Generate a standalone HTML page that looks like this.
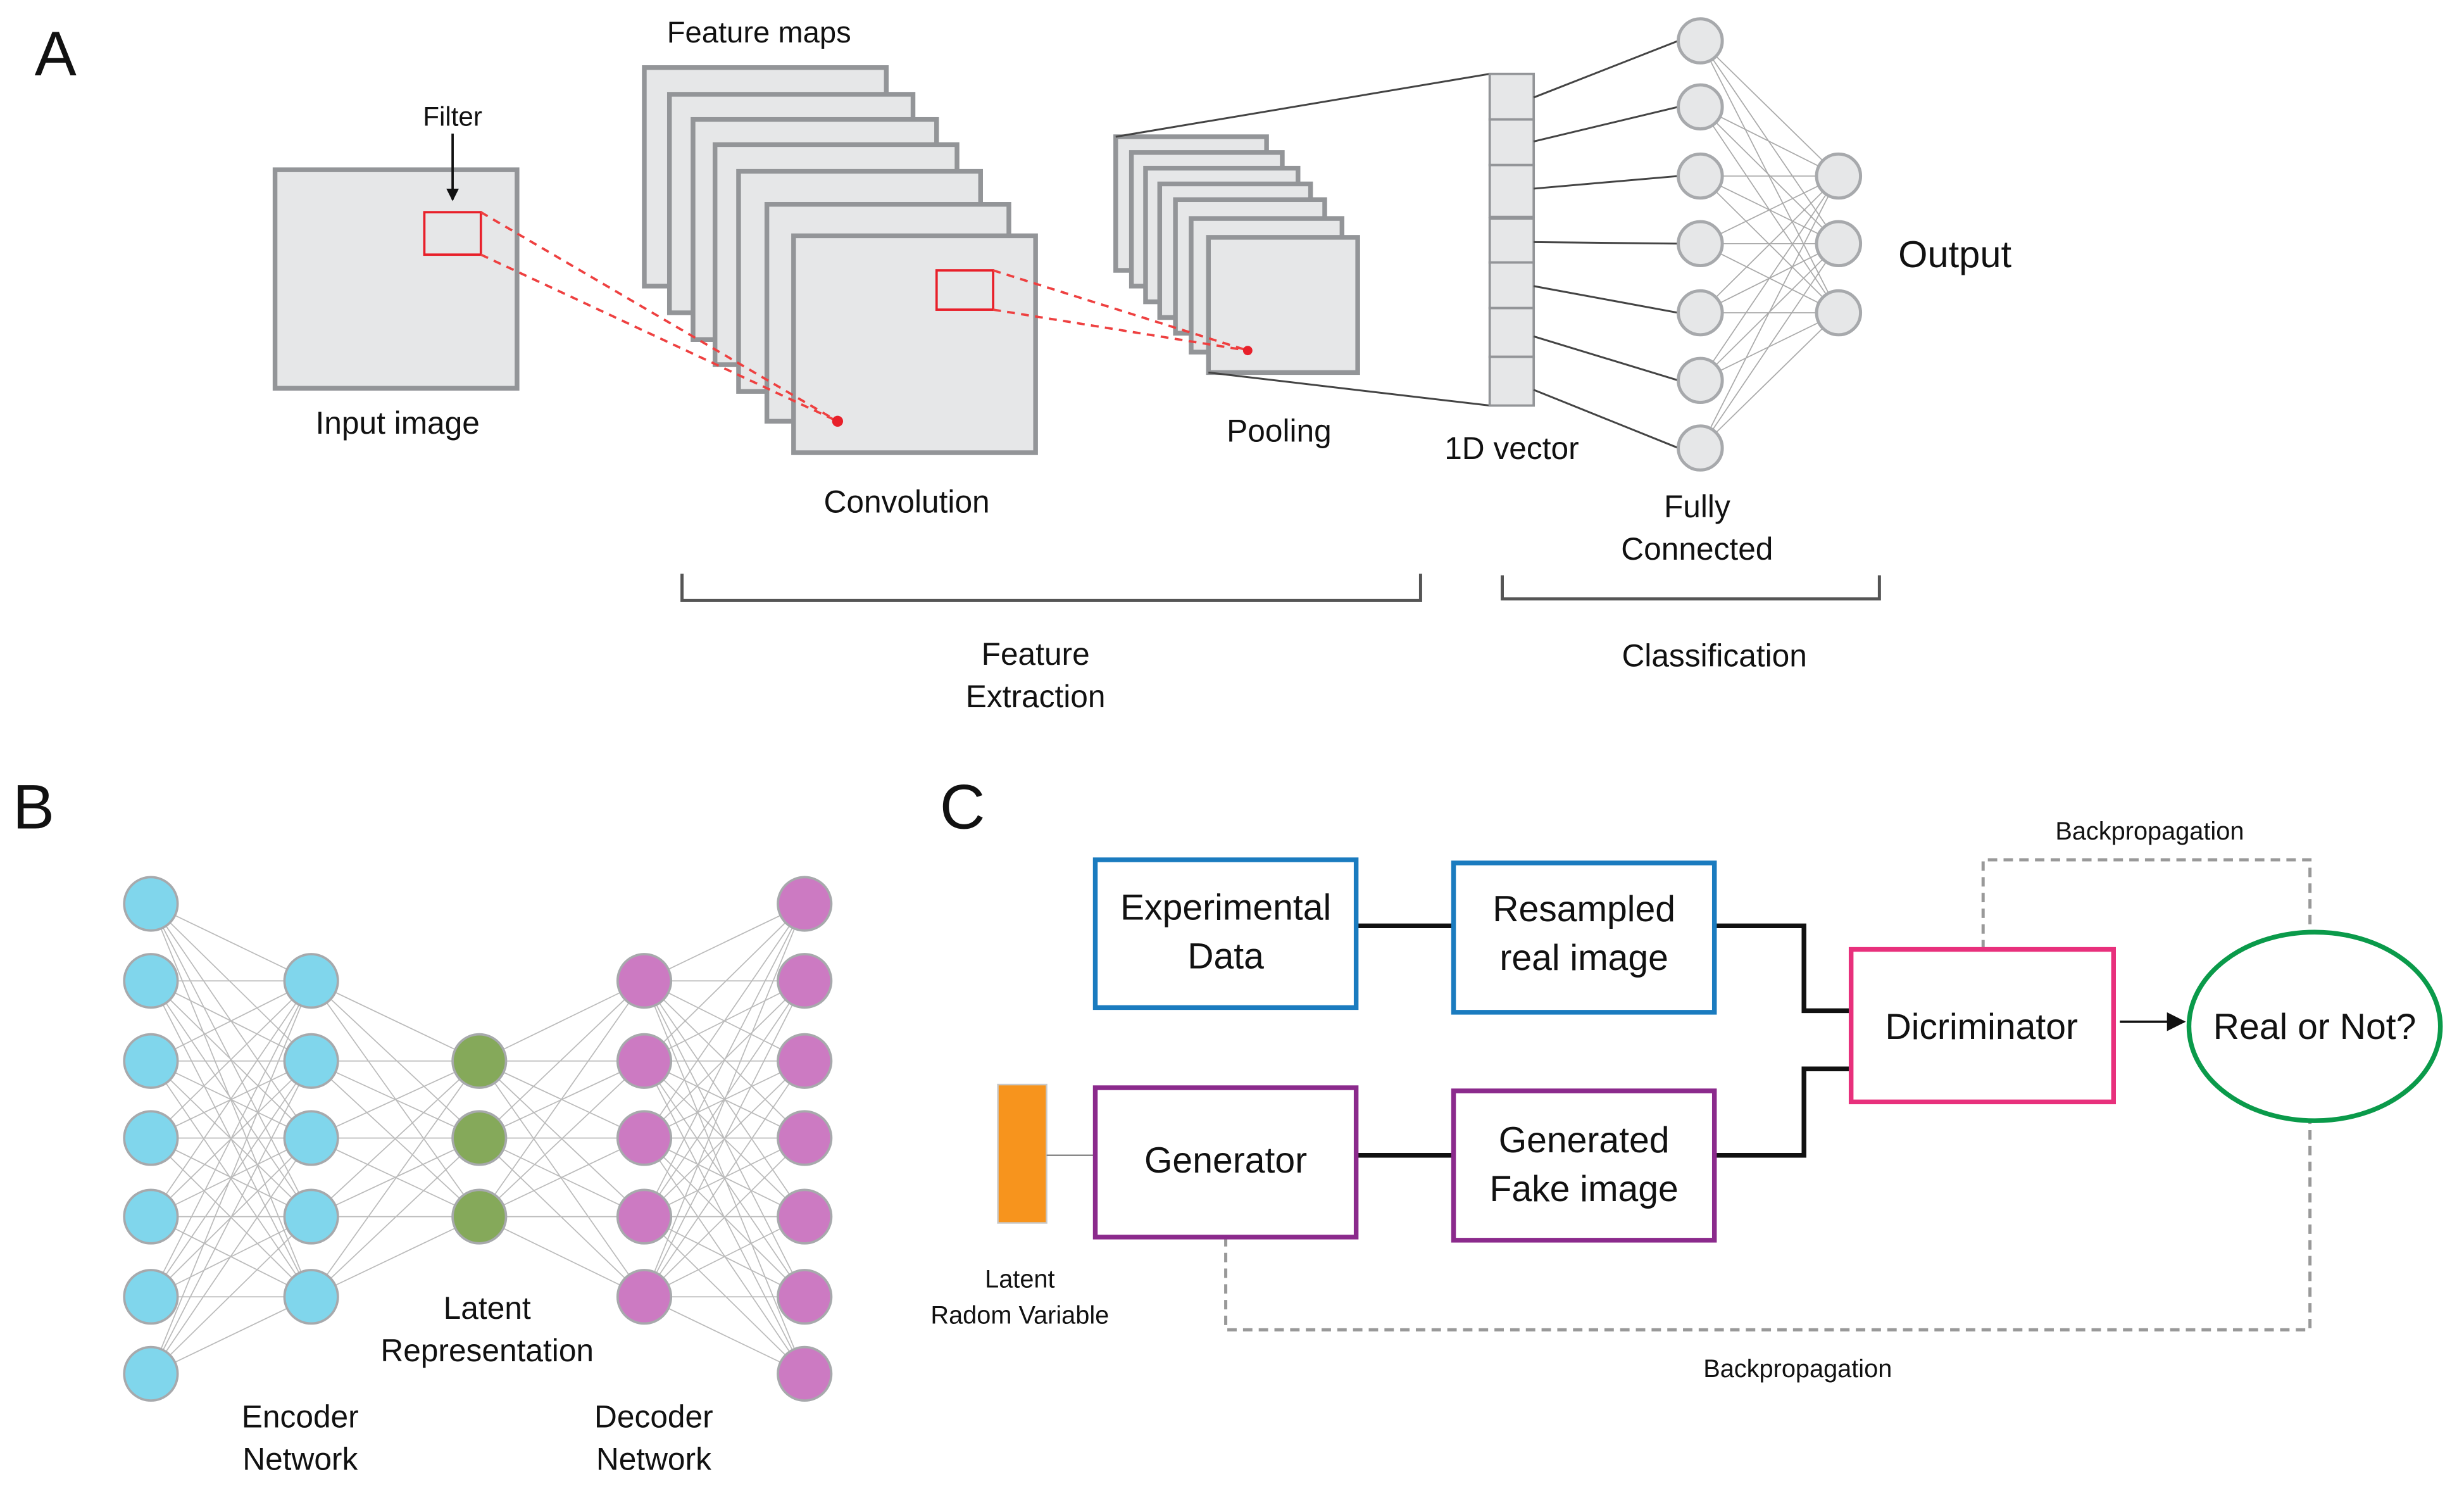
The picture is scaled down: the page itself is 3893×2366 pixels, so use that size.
<!DOCTYPE html>
<html><head><meta charset="utf-8"><style>
html,body{margin:0;padding:0;background:#fff;}
svg{display:block;}
text{font-family:"Liberation Sans Narrow","Liberation Sans",sans-serif;fill:#111;}
</style></head><body>
<svg width="3893" height="2366" viewBox="0 0 1568 953" xmlns="http://www.w3.org/2000/svg">
<defs>
<marker id="ah" markerWidth="8" markerHeight="8" refX="7" refY="4" orient="auto" markerUnits="userSpaceOnUse"><path d="M0,0 L8,4 L0,8 Z" fill="#111"/></marker>
<marker id="ah2" markerWidth="12" markerHeight="12" refX="11" refY="6" orient="auto" markerUnits="userSpaceOnUse"><path d="M0,0 L12,6 L0,12 Z" fill="#111"/></marker>
</defs>
<!-- A -->
<text x="22" y="48" font-size="40">A</text>
<rect x="175" y="108" width="154" height="139" fill="#e6e7e8" stroke="#939598" stroke-width="3"/>
<text x="288" y="80" font-size="17" text-anchor="middle">Filter</text>
<line x1="288" y1="85" x2="288" y2="127" stroke="#111" stroke-width="1.5" marker-end="url(#ah)"/>
<text x="253" y="276" font-size="20" text-anchor="middle">Input image</text>
<text x="483" y="27" font-size="19" text-anchor="middle">Feature maps</text>
<g fill="#e6e7e8" stroke="#939598" stroke-width="3">
<rect x="410" y="43" width="154" height="139"/>
<rect x="426" y="60" width="155" height="139"/>
<rect x="441" y="76" width="155" height="140"/>
<rect x="455" y="92" width="154" height="140"/>
<rect x="470" y="109" width="154" height="140"/>
<rect x="488" y="130" width="154" height="138"/>
<rect x="505" y="150" width="154" height="138"/>
</g>
<g fill="#e6e7e8" stroke="#939598" stroke-width="3">
<rect x="710" y="87" width="96" height="85"/>
<rect x="720" y="97" width="96" height="85"/>
<rect x="729" y="107" width="97" height="85"/>
<rect x="738" y="117" width="96" height="85"/>
<rect x="748" y="127" width="95" height="85"/>
<rect x="758" y="139" width="96" height="85"/>
<rect x="769" y="151" width="95" height="86"/>
</g>
<rect x="270" y="135" width="36" height="27" fill="none" stroke="#e8202a" stroke-width="1.5"/>
<rect x="596" y="172" width="36" height="25" fill="none" stroke="#e8202a" stroke-width="1.5"/>
<g stroke="#ee4040" stroke-width="1.5" stroke-dasharray="5,4" fill="none">
<line x1="306" y1="135" x2="533" y2="268"/><line x1="306" y1="162" x2="533" y2="268"/>
<line x1="632" y1="172" x2="794" y2="223"/><line x1="632" y1="197" x2="794" y2="223"/>
</g>
<circle cx="533" cy="268" r="3.5" fill="#e8202a"/>
<circle cx="794" cy="223" r="3" fill="#e8202a"/>
<text x="577" y="326" font-size="20" text-anchor="middle">Convolution</text>
<text x="814" y="281" font-size="20" text-anchor="middle">Pooling</text>
<g stroke="#444" stroke-width="1.2"><line x1="710" y1="87" x2="948" y2="47"/><line x1="769" y1="237" x2="948" y2="258"/></g>
<g fill="#e6e7e8" stroke="#939598" stroke-width="1.5">
<rect x="948" y="47" width="28" height="29"/><rect x="948" y="76" width="28" height="29"/><rect x="948" y="105" width="28" height="33"/>
<rect x="948" y="139" width="28" height="28"/><rect x="948" y="167" width="28" height="29"/><rect x="948" y="196" width="28" height="31"/><rect x="948" y="227" width="28" height="31"/>
</g>
<text x="962" y="292" font-size="20" text-anchor="middle">1D vector</text>
<g stroke="#444" stroke-width="1.2">
<line x1="976" y1="62" x2="1068" y2="26"/><line x1="976" y1="90" x2="1068" y2="68"/><line x1="976" y1="120" x2="1068" y2="112"/>
<line x1="976" y1="154" x2="1068" y2="155"/><line x1="976" y1="182" x2="1068" y2="199"/><line x1="976" y1="214" x2="1068" y2="242"/><line x1="976" y1="248" x2="1068" y2="285"/>
</g>
<g stroke="#aaa" stroke-width="0.7" id="fc">
<line x1="1082" y1="26" x2="1170" y2="112"/><line x1="1082" y1="26" x2="1170" y2="155"/><line x1="1082" y1="26" x2="1170" y2="199"/>
<line x1="1082" y1="68" x2="1170" y2="112"/><line x1="1082" y1="68" x2="1170" y2="155"/><line x1="1082" y1="68" x2="1170" y2="199"/>
<line x1="1082" y1="112" x2="1170" y2="112"/><line x1="1082" y1="112" x2="1170" y2="155"/><line x1="1082" y1="112" x2="1170" y2="199"/>
<line x1="1082" y1="155" x2="1170" y2="112"/><line x1="1082" y1="155" x2="1170" y2="155"/><line x1="1082" y1="155" x2="1170" y2="199"/>
<line x1="1082" y1="199" x2="1170" y2="112"/><line x1="1082" y1="199" x2="1170" y2="155"/><line x1="1082" y1="199" x2="1170" y2="199"/>
<line x1="1082" y1="242" x2="1170" y2="112"/><line x1="1082" y1="242" x2="1170" y2="155"/><line x1="1082" y1="242" x2="1170" y2="199"/>
<line x1="1082" y1="285" x2="1170" y2="112"/><line x1="1082" y1="285" x2="1170" y2="155"/><line x1="1082" y1="285" x2="1170" y2="199"/>
</g>
<g fill="#e6e7e8" stroke="#a7a9ac" stroke-width="2">
<circle cx="1082" cy="26" r="14"/><circle cx="1082" cy="68" r="14"/><circle cx="1082" cy="112" r="14"/><circle cx="1082" cy="155" r="14"/><circle cx="1082" cy="199" r="14"/><circle cx="1082" cy="242" r="14"/><circle cx="1082" cy="285" r="14"/>
<circle cx="1170" cy="112" r="14"/><circle cx="1170" cy="155" r="14"/><circle cx="1170" cy="199" r="14"/>
</g>
<text x="1208" y="170" font-size="24">Output</text>
<text x="1080" y="329" font-size="20" text-anchor="middle">Fully</text>
<text x="1080" y="356" font-size="20" text-anchor="middle">Connected</text>
<g stroke="#555" stroke-width="2" fill="none">
<polyline points="434,365 434,382 904,382 904,365"/>
<polyline points="956,366 956,381 1196,381 1196,366"/>
</g>
<text x="659" y="423" font-size="20" text-anchor="middle">Feature</text>
<text x="659" y="450" font-size="20" text-anchor="middle">Extraction</text>
<text x="1091" y="424" font-size="20" text-anchor="middle">Classification</text>

<!-- B -->
<text x="8" y="527" font-size="40">B</text>
<g stroke="#bbb" stroke-width="0.7">
<!-- generated lines -->
<path d="
M96 575L198 624M96 575L198 675M96 575L198 724M96 575L198 774M96 575L198 825
M96 624L198 624M96 624L198 675M96 624L198 724M96 624L198 774M96 624L198 825
M96 675L198 624M96 675L198 675M96 675L198 724M96 675L198 774M96 675L198 825
M96 724L198 624M96 724L198 675M96 724L198 724M96 724L198 774M96 724L198 825
M96 774L198 624M96 774L198 675M96 774L198 724M96 774L198 774M96 774L198 825
M96 825L198 624M96 825L198 675M96 825L198 724M96 825L198 774M96 825L198 825
M96 874L198 624M96 874L198 675M96 874L198 724M96 874L198 774M96 874L198 825
M198 624L305 675M198 624L305 724M198 624L305 774
M198 675L305 675M198 675L305 724M198 675L305 774
M198 724L305 675M198 724L305 724M198 724L305 774
M198 774L305 675M198 774L305 724M198 774L305 774
M198 825L305 675M198 825L305 724M198 825L305 774
M410 624L305 675M410 624L305 724M410 624L305 774
M410 675L305 675M410 675L305 724M410 675L305 774
M410 724L305 675M410 724L305 724M410 724L305 774
M410 774L305 675M410 774L305 724M410 774L305 774
M410 825L305 675M410 825L305 724M410 825L305 774
M512 575L410 624M512 575L410 675M512 575L410 724M512 575L410 774M512 575L410 825
M512 624L410 624M512 624L410 675M512 624L410 724M512 624L410 774M512 624L410 825
M512 675L410 624M512 675L410 675M512 675L410 724M512 675L410 774M512 675L410 825
M512 724L410 624M512 724L410 675M512 724L410 724M512 724L410 774M512 724L410 825
M512 774L410 624M512 774L410 675M512 774L410 724M512 774L410 774M512 774L410 825
M512 825L410 624M512 825L410 675M512 825L410 724M512 825L410 774M512 825L410 825
M512 874L410 624M512 874L410 675M512 874L410 724M512 874L410 774M512 874L410 825" fill="none"/>
</g>
<g fill="#80d6ec" stroke="#a7a9ac" stroke-width="1.5">
<circle cx="96" cy="575" r="17"/><circle cx="96" cy="624" r="17"/><circle cx="96" cy="675" r="17"/><circle cx="96" cy="724" r="17"/><circle cx="96" cy="774" r="17"/><circle cx="96" cy="825" r="17"/><circle cx="96" cy="874" r="17"/>
<circle cx="198" cy="624" r="17"/><circle cx="198" cy="675" r="17"/><circle cx="198" cy="724" r="17"/><circle cx="198" cy="774" r="17"/><circle cx="198" cy="825" r="17"/>
</g>
<g fill="#85a95a" stroke="#a7a9ac" stroke-width="1.5">
<circle cx="305" cy="675" r="17"/><circle cx="305" cy="724" r="17"/><circle cx="305" cy="774" r="17"/>
</g>
<g fill="#cc7ac2" stroke="#a7a9ac" stroke-width="1.5">
<circle cx="410" cy="624" r="17"/><circle cx="410" cy="675" r="17"/><circle cx="410" cy="724" r="17"/><circle cx="410" cy="774" r="17"/><circle cx="410" cy="825" r="17"/>
<circle cx="512" cy="575" r="17"/><circle cx="512" cy="624" r="17"/><circle cx="512" cy="675" r="17"/><circle cx="512" cy="724" r="17"/><circle cx="512" cy="774" r="17"/><circle cx="512" cy="825" r="17"/><circle cx="512" cy="874" r="17"/>
</g>
<g font-size="20" text-anchor="middle">
<text x="191" y="908">Encoder</text><text x="191" y="935">Network</text>
<text x="310" y="839">Latent</text><text x="310" y="866">Representation</text>
<text x="416" y="908">Decoder</text><text x="416" y="935">Network</text>
</g>

<!-- C -->
<text x="598" y="527" font-size="40">C</text>
<g stroke="#999" stroke-width="2" stroke-dasharray="6,4" fill="none">
<polyline points="1262,604 1262,547 1470,547 1470,593"/>
<polyline points="780,787 780,846 1470,846 1470,713"/>
</g>
<text x="1368" y="534" font-size="16" text-anchor="middle">Backpropagation</text>
<text x="1144" y="876" font-size="16" text-anchor="middle">Backpropagation</text>
<g stroke="#111" stroke-width="3" fill="none">
<line x1="863" y1="589" x2="925" y2="589"/>
<polyline points="1091,589 1148,589 1148,643 1178,643"/>
<line x1="863" y1="735" x2="925" y2="735"/>
<polyline points="1091,735 1148,735 1148,680 1178,680"/>
</g>
<line x1="1349" y1="650" x2="1390" y2="650" stroke="#111" stroke-width="1.5" marker-end="url(#ah2)"/>
<rect x="635" y="690" width="31" height="88" fill="#f7941d" stroke="#c9c9c9" stroke-width="1"/>
<line x1="666" y1="735" x2="697" y2="735" stroke="#888" stroke-width="1"/>
<text x="649" y="819" font-size="16" text-anchor="middle">Latent</text>
<text x="649" y="842" font-size="16" text-anchor="middle">Radom Variable</text>
<g fill="#fff" stroke-width="3">
<rect x="697" y="547" width="166" height="94" stroke="#1a7bbf"/>
<rect x="925" y="549" width="166" height="95" stroke="#1a7bbf"/>
<rect x="697" y="692" width="166" height="95" stroke="#8b2a8c"/>
<rect x="925" y="694" width="166" height="95" stroke="#8b2a8c"/>
<rect x="1178" y="604" width="167" height="97" stroke="#e8307c"/>
<ellipse cx="1473" cy="653" rx="80" ry="60" stroke="#0a9a4a"/>
</g>
<g font-size="23" text-anchor="middle">
<text x="780" y="585">Experimental</text><text x="780" y="616">Data</text>
<text x="1008" y="586">Resampled</text><text x="1008" y="617">real image</text>
<text x="780" y="746">Generator</text>
<text x="1008" y="733">Generated</text><text x="1008" y="764">Fake image</text>
<text x="1261" y="661">Dicriminator</text>
<text x="1473" y="661">Real or Not?</text>
</g>
</svg>
</body></html>
